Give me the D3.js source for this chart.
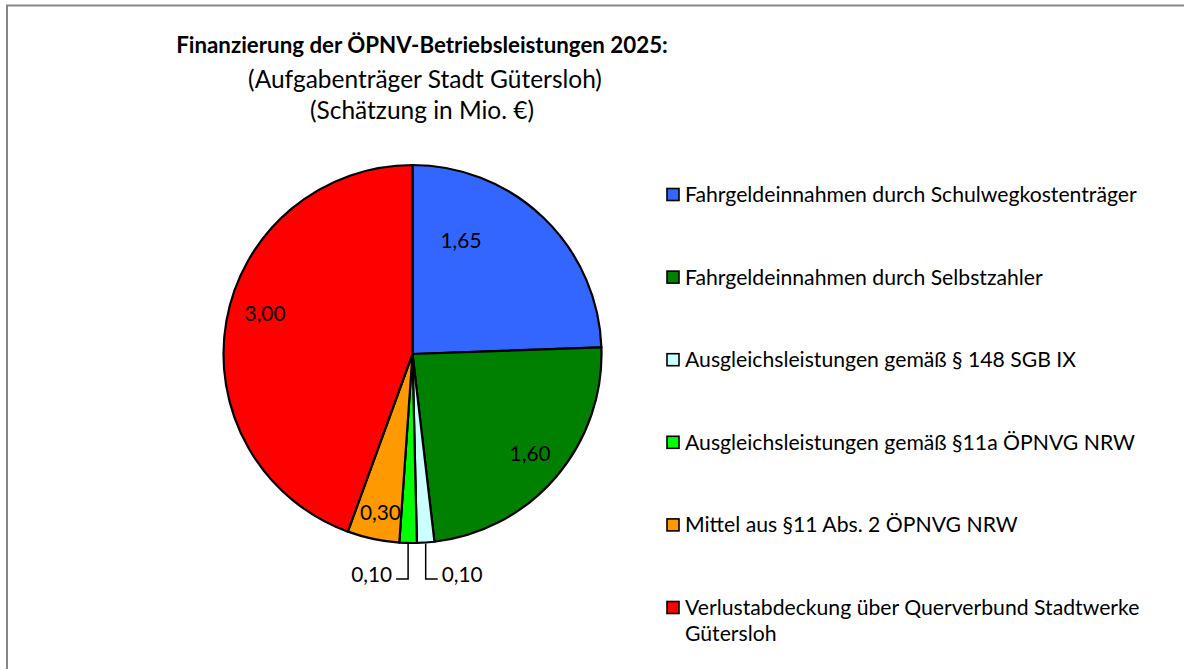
<!DOCTYPE html>
<html>
<head>
<meta charset="utf-8">
<script src="https://cdn.jsdelivr.net/npm/d3@7"></script>
<style>
  html, body { margin: 0; padding: 0; background: #fff; }
  svg { display: block; }
  text { font-family: "Lato", "Open Sans", sans-serif; fill: #000; }
</style>
</head>
<body>
<svg id="chart" width="1184" height="669"></svg>
<script>
// Financing sources (Mio. €), clockwise from 12 o'clock
const categories = [
  "Fahrgeldeinnahmen durch Schulwegkostenträger",
  "Fahrgeldeinnahmen durch Selbstzahler",
  "Ausgleichsleistungen gemäß § 148 SGB IX",
  "Ausgleichsleistungen gemäß §11a ÖPNVG NRW",
  "Mittel aus §11 Abs. 2 ÖPNVG NRW",
  "Verlustabdeckung über Querverbund Stadtwerke Gütersloh"
];
const values = [1.65, 1.60, 0.10, 0.10, 0.30, 3.00];
const colors = ["#3366FF", "#008000", "#CCFFFF", "#00FF00", "#FF9900", "#FF0000"];

const titleLines = [
  "Finanzierung der ÖPNV-Betriebsleistungen 2025:",
  "(Aufgabenträger Stadt Gütersloh)",
  "(Schätzung in Mio. €)"
];

// Label placement inside each slice: fraction along the slice's angle and radius fraction.
// Small slices get an external leader line instead (side: -1 left, +1 right).
const labelPlacement = [
  { t: 0.26, r: 0.66 },
  { t: 0.49, r: 0.81 },
  { leader: +1 },
  { leader: -1 },
  { t: 0.47, r: 0.85 },
  { t: 0.535, r: 0.81 }
];

const fmt = v => d3.format(".2f")(v).replace(".", ",");

const svg = d3.select("#chart");

// outer frame
svg.append("rect")
  .attr("x", 7).attr("y", 5.5)
  .attr("width", 1184).attr("height", 700)
  .attr("fill", "none").attr("stroke", "#868686").attr("stroke-width", 2);

// fit a text element's font size to a target width
function fitWidth(sel, targetW) {
  const node = sel.node();
  const w = node.getComputedTextLength();
  const fs = parseFloat(sel.attr("font-size"));
  sel.attr("font-size", fs * targetW / w);
  return fs * targetW / w;
}

// Title
const titleX = 422;
const t0 = svg.append("text").attr("x", titleX).attr("y", 44)
  .attr("text-anchor", "middle").attr("dominant-baseline", "central")
  .attr("font-weight", "bold").attr("font-size", 20).text(titleLines[0]);
fitWidth(t0, 492);
const t1 = svg.append("text").attr("x", titleX + 3).attr("y", 78)
  .attr("text-anchor", "middle").attr("dominant-baseline", "central")
  .attr("font-size", 20).text(titleLines[1]);
const subFs = fitWidth(t1, 354);
svg.append("text").attr("x", titleX).attr("y", 109)
  .attr("text-anchor", "middle").attr("dominant-baseline", "central")
  .attr("font-size", subFs).text(titleLines[2]);

// Pie
const cx = 412.5, cy = 354, R = 189;
const pie = d3.pie().sort(null).value(d => d);
const arcs = pie(values);
const arc = d3.arc().innerRadius(0).outerRadius(R);

const g = svg.append("g").attr("transform", `translate(${cx},${cy})`);
g.selectAll("path.slice").data(arcs).join("path")
  .attr("class", "slice")
  .attr("d", arc)
  .attr("fill", (d, i) => colors[i])
  .attr("stroke", "#000").attr("stroke-width", 2.2).attr("stroke-linejoin", "round");

// font sizes fitted to the drawn text widths
const labelSample = svg.append("text").attr("font-size", 20).text(fmt(values[0]));
const labelFs = fitWidth(labelSample, 41);
labelSample.remove();
const legendSample = svg.append("text").attr("font-size", 20).text(categories[0]);
const legendFs = fitWidth(legendSample, 452);
legendSample.remove();

// Data labels
arcs.forEach((d, i) => {
  const p = labelPlacement[i];
  const txt = fmt(values[i]);
  if (p.leader) {
    const a = (d.startAngle + d.endAngle) / 2;
    const x0 = R * Math.sin(a), y0 = -R * Math.cos(a);
    const yEnd = R + 36;
    const xEnd = x0 + p.leader * 12;
    g.append("path")
      .attr("d", `M${x0},${y0 + 1}L${x0},${yEnd}L${xEnd},${yEnd}`)
      .attr("fill", "none").attr("stroke", "#000").attr("stroke-width", 1.5);
    g.append("text")
      .attr("x", xEnd + p.leader * 4)
      .attr("y", yEnd - 6)
      .attr("text-anchor", p.leader > 0 ? "start" : "end")
      .attr("dominant-baseline", "central")
      .attr("font-size", labelFs).text(txt);
  } else {
    const a = d.startAngle + p.t * (d.endAngle - d.startAngle);
    const rr = p.r * R;
    g.append("text")
      .attr("x", rr * Math.sin(a)).attr("y", -rr * Math.cos(a))
      .attr("text-anchor", "middle").attr("dominant-baseline", "central")
      .attr("font-size", labelFs).text(txt);
  }
});

// Legend
const legendY = d3.scalePoint().domain(d3.range(categories.length)).range([194, 607]);
const lg = svg.append("g");
categories.forEach((c, i) => {
  const y = legendY(i);
  lg.append("rect")
    .attr("x", 667).attr("y", y - 5.5).attr("width", 12).attr("height", 12)
    .attr("fill", colors[i]).attr("stroke", "#000").attr("stroke-width", 1.6);
  const lines = i === categories.length - 1
    ? ["Verlustabdeckung über Querverbund Stadtwerke", "Gütersloh"]
    : [c];
  const tx = lg.append("text").attr("x", 685).attr("y", y)
    .attr("dominant-baseline", "central").attr("font-size", legendFs);
  lines.forEach((ln, k) => {
    tx.append("tspan").attr("x", 685).attr("dy", k === 0 ? 0 : 26).text(ln);
  });
});
</script>
</body>
</html>
